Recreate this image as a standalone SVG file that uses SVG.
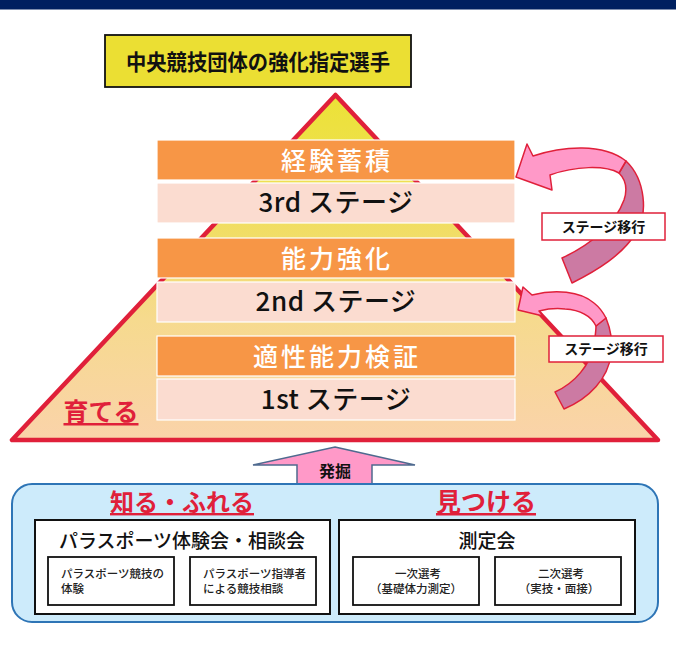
<svg xmlns="http://www.w3.org/2000/svg" width="676" height="651" viewBox="0 0 676 651">
<defs>
<linearGradient id="triGrad" x1="0" y1="95" x2="0" y2="440" gradientUnits="userSpaceOnUse">
<stop offset="0" stop-color="#ECE236"/>
<stop offset="0.35" stop-color="#F0DE5E"/>
<stop offset="0.65" stop-color="#F6DA8E"/>
<stop offset="1" stop-color="#FAD3AA"/>
</linearGradient>
<style>
text{font-family:"Noto Sans CJK JP","Noto Sans",sans-serif;}
.hdr{fill:#F79646;stroke:#FFFFFF;stroke-width:1.2;}
.sub{fill:#FBDCD0;stroke:#FFFFFF;stroke-width:1.2;}
.hdrT{fill:#FFFFFF;font-size:25px;font-weight:500;text-anchor:middle;letter-spacing:3px;}
.subT{fill:#111111;font-size:26px;font-weight:500;text-anchor:middle;letter-spacing:0.5px;}
.redT{fill:#E0203A;font-weight:700;text-anchor:middle;text-decoration:underline;}
.lbl{fill:#FFFFFF;stroke:#E0203A;stroke-width:1.5;}
.lblT{fill:#111111;font-size:14px;font-weight:700;text-anchor:middle;}
.front{fill:#FF99C8;stroke:#E0203A;stroke-width:1.5;stroke-linejoin:round;}
.back{fill:#CC7AA3;stroke:#E0203A;stroke-width:1.5;stroke-linejoin:round;}
.wbox{fill:#FFFFFF;stroke:#111111;stroke-width:2;}
.sbox{fill:#FFFFFF;stroke:#111111;stroke-width:1.8;}
.small{fill:#222222;font-size:11.5px;font-weight:500;}
</style>
</defs>

<rect x="0" y="0" width="676" height="9.5" fill="#002060"/>

<g id="pyramid">
<polygon points="335.5,95 12,440 658,440" fill="url(#triGrad)" stroke="#E0203A" stroke-width="4.5" stroke-linejoin="round"/>
<text x="101" y="421" class="redT" font-size="25">育てる</text>
</g>

<g id="top-node">
<rect x="105" y="35" width="306" height="52" fill="#EBDF33" stroke="#111111" stroke-width="1.8"/>
<text x="258" y="70" font-size="22" font-weight="700" text-anchor="middle" fill="#111111" textLength="264" lengthAdjust="spacingAndGlyphs">中央競技団体の強化指定選手</text>
</g>

<g id="stage3">
<rect x="157" y="140" width="358" height="40" class="hdr"/>
<text x="337" y="170" class="hdrT" letter-spacing="4.5">経験蓄積</text>
<rect x="157" y="183" width="358" height="40" class="sub"/>
<text x="336" y="212" class="subT">3rd ステージ</text>
</g>

<g id="stage2">
<rect x="157" y="238" width="358" height="40" class="hdr"/>
<text x="337" y="268" class="hdrT" letter-spacing="4.5">能力強化</text>
<rect x="157" y="282" width="358" height="40" class="sub"/>
<text x="336" y="311" class="subT">2nd ステージ</text>
</g>

<g id="stage1">
<rect x="157" y="336" width="358" height="40" class="hdr"/>
<text x="337" y="366" class="hdrT">適性能力検証</text>
<rect x="157" y="379" width="358" height="41" class="sub"/>
<text x="336" y="409" class="subT">1st ステージ</text>
</g>

<g id="connectors">
<g id="transition-2to3">
<path class="back" d="M626,161 C646,180 648,215 636,233 C622,255 598,270 572,283 L562,258 C590,245 615,225 624,200 C628,188 625,179 619,173 Z"/>
<path class="front" d="M516,177 L527,144 L533,156 C563,146 603,143 626,161 L619,173 C605,165 575,166 550,175 L552,190 Z"/>
</g>
<g id="transition-1to2">
<path class="back" d="M606,318 C611,330 613,342 611,355 C608,378 590,398 564,409 L555,392 C575,383 590,365 594,345 C595,338 596,331 596,326 Z"/>
<path class="front" d="M518,310 L523,287 L532,295 C555,289 580,291 594,303 C599,307 603,312 606,318 L596,326 C591,316 580,310 565,309 C556,308 547,309 539,311 L543,316 Z"/>
</g>
<g id="discover-arrow">
<polygon points="335,447 415,465 372,465 372,485 297,485 297,465 253,465" fill="#FF99C8" stroke="#4F6A8F" stroke-width="1.5" stroke-linejoin="miter"/>
<text x="335" y="477" font-size="16" font-weight="700" text-anchor="middle" fill="#111111">発掘</text>
</g>
</g>

<g id="label1">
<rect x="542" y="213" width="123" height="27" class="lbl"/>
<text x="603.5" y="231.5" class="lblT">ステージ移行</text>
</g>
<g id="label2">
<rect x="549" y="336" width="114" height="26" class="lbl"/>
<text x="606" y="354" class="lblT">ステージ移行</text>
</g>

<g id="bottom-panel">
<rect x="12" y="484" width="646" height="138" rx="20" ry="20" fill="#CDEBFB" stroke="#2E75B6" stroke-width="2"/>
<text x="182" y="511" class="redT" font-size="24">知る・ふれる</text>
<text x="486" y="511" class="redT" font-size="25">見つける</text>
</g>

<g id="experience-events">
<rect x="35" y="520" width="295" height="94" class="wbox"/>
<text x="182" y="548" font-size="19" font-weight="500" text-anchor="middle" fill="#111111">パラスポーツ体験会・相談会</text>
</g>
<g id="exp-sub1">
<rect x="48" y="557" width="126" height="48" class="sbox"/>
<text x="61" y="578" class="small">パラスポーツ競技の</text>
<text x="61" y="593" class="small">体験</text>
</g>
<g id="exp-sub2">
<rect x="190" y="557" width="126" height="48" class="sbox"/>
<text x="203" y="578" class="small">パラスポーツ指導者</text>
<text x="203" y="593" class="small">による競技相談</text>
</g>

<g id="measurement">
<rect x="339" y="520" width="296" height="94" class="wbox"/>
<text x="487" y="548" font-size="19" font-weight="500" text-anchor="middle" fill="#111111">測定会</text>
</g>
<g id="meas-sub1">
<rect x="353" y="557" width="126" height="48" class="sbox"/>
<text x="418" y="578" class="small" text-anchor="middle">一次選考</text>
<text x="416" y="593" class="small" text-anchor="middle">（基礎体力測定）</text>
</g>
<g id="meas-sub2">
<rect x="495" y="557" width="126" height="48" class="sbox"/>
<text x="561" y="578" class="small" text-anchor="middle">二次選考</text>
<text x="559" y="593" class="small" text-anchor="middle">（実技・面接）</text>
</g>
</svg>
